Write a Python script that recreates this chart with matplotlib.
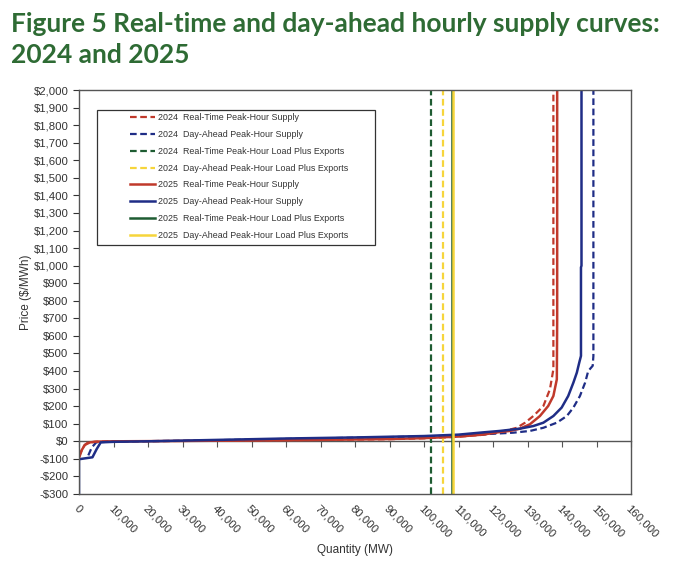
import matplotlib
matplotlib.use("Agg")
import matplotlib.pyplot as plt
from matplotlib.patches import Rectangle
from matplotlib.ticker import FuncFormatter, MultipleLocator

# supply curves (MW, $/MWh)
rt25_mw = [0, 800, 1700, 3200, 5000, 10000, 30000, 50000, 70000, 90000, 100000, 110000, 117000,
           122000, 124900, 127800, 130700, 133600, 136000, 137500, 138500, 138600, 138600]
rt25_px = [-95, -50, -20, -6, -2, 0, 2, 5, 8, 13, 18, 27, 38,
           53, 59, 72, 97, 144, 201, 258, 353, 700, 2000]

rt24_mw = [0, 700, 1500, 2500, 4500, 10000, 30000, 50000, 70000, 90000, 100000, 110000, 117000,
           122000, 126900, 129300, 131700, 134600, 136500, 137500, 137500]
rt24_px = [-85, -55, -25, -8, -3, 0, 2, 5, 8, 12, 17, 26, 37,
           52, 77, 106, 144, 201, 296, 410, 2000]

da25_mw = [0, 0, 3900, 5100, 6300, 10000, 20000, 30000, 40000, 50000, 60000, 70000, 80000, 90000,
           100000, 110000, 117200, 122000, 127800, 131700, 134600, 137500, 139900, 141800, 143300,
           144300, 145000, 145500, 145500, 145650, 145650]
da25_px = [-300, -102, -91, -45, -6, -3, 0, 4, 8, 12, 16, 19, 22, 26,
           30, 38, 51, 59, 72, 87, 106, 144, 192, 258, 334,
           391, 448, 486, 990, 1000, 2000]

da24_mw = [2700, 3700, 5000, 10000, 30000, 50000, 70000, 90000, 100000, 110000, 122000, 125900,
           130700, 134600, 138500, 141400, 143300, 145200, 146700, 147600, 148900, 149100, 149100]
da24_px = [-80, -35, -6, -1, 3, 10, 17, 24, 28, 33, 45, 49,
           59, 77, 106, 144, 192, 258, 334, 400, 430, 486, 2000]

# peak-hour load plus exports (MW)
rt24_load = 101900
da24_load = 105400
rt25_load = 108000
da25_load = 108500

RED = "#c0392b"
BLUE = "#1f2d86"
GREEN = "#1e5c32"
YELLOW = "#f6d53b"
DASH = (0, (3, 1.6))

plt.rcParams["font.family"] = ["Liberation Sans", "DejaVu Sans"]

fig = plt.figure(figsize=(6.8, 5.64), dpi=100)
ax = fig.add_axes([79 / 680, 1 - 494 / 564, 552 / 680, 404 / 564])

ax.plot(rt24_mw, rt24_px, color=RED, lw=1.6, ls=DASH, label="2024  Real-Time Peak-Hour Supply")
ax.plot(da24_mw, da24_px, color=BLUE, lw=1.6, ls=DASH, label="2024  Day-Ahead Peak-Hour Supply")
ax.axvline(rt24_load, color=GREEN, lw=1.6, ls=DASH, label="2024  Real-Time Peak-Hour Load Plus Exports")
ax.axvline(da24_load, color=YELLOW, lw=1.6, ls=DASH, label="2024  Day-Ahead Peak-Hour Load Plus Exports")
ax.plot(rt25_mw, rt25_px, color=RED, lw=1.8, label="2025  Real-Time Peak-Hour Supply")
ax.plot(da25_mw, da25_px, color=BLUE, lw=1.8, label="2025  Day-Ahead Peak-Hour Supply")
ax.axvline(rt25_load, color=GREEN, lw=1.8, label="2025  Real-Time Peak-Hour Load Plus Exports")
ax.axvline(da25_load, color=YELLOW, lw=1.8, label="2025  Day-Ahead Peak-Hour Load Plus Exports")

ax.set_xlim(0, 160000)
ax.set_ylim(-300, 2000)
ax.yaxis.set_major_locator(MultipleLocator(100))
ax.xaxis.set_major_locator(MultipleLocator(10000))


def money(v, _):
    return f"-${abs(v):,.0f}" if v < 0 else f"${v:,.0f}"


ax.yaxis.set_major_formatter(FuncFormatter(money))
ax.xaxis.set_major_formatter(FuncFormatter(lambda v, _: f"{v:,.0f}"))
ax.tick_params(axis="y", labelsize=8.2, colors="#333333", length=4, width=0.8)
ax.tick_params(axis="x", labelsize=8.2, colors="#333333", length=0, pad=7)
for lab in ax.get_xticklabels():
    lab.set_rotation(-45)
    lab.set_ha("left")
    lab.set_va("top")
    lab.set_rotation_mode("anchor")

# zero line carries the x tick marks
zero = ax.secondary_xaxis(300 / 2300)
zero.xaxis.set_major_locator(MultipleLocator(10000))
zero.tick_params(axis="x", direction="out", length=4, width=0.8, labelbottom=False, color="#555555")
zero.spines["bottom"].set_color("#555555")
zero.spines["bottom"].set_linewidth(1.0)

for s in ax.spines.values():
    s.set_color("#555555")
    s.set_linewidth(1.0)

ax.set_xlabel("Quantity (MW)", fontsize=8.5, color="#333333", labelpad=3)
ax.set_ylabel("Price ($/MWh)", fontsize=8.5, color="#333333", labelpad=1)

# legend box is wider than its content in the original
ax.add_patch(Rectangle((18 / 552, 249 / 404), 278 / 552, 135 / 404, transform=ax.transAxes,
                       facecolor="white", edgecolor="#333333", lw=0.9, zorder=4))
leg = ax.legend(loc="upper left", bbox_to_anchor=(51 / 552, 380.5 / 404), fontsize=6.4, frameon=False,
                handlelength=2.8, handletextpad=0.3, labelspacing=0.87, borderpad=0, borderaxespad=0)
leg.set_zorder(5)
for t in leg.get_texts():
    t.set_color("#333333")

fig.text(11 / 680, 1 - 12 / 564, "Figure 5 Real-time and day-ahead hourly supply curves:\n2024 and 2025",
         fontsize=19, fontweight="bold", color="#2e6b34", family=["Lato", "DejaVu Sans"],
         ha="left", va="top", linespacing=1.35)

fig.savefig("out.png", dpi=100)
